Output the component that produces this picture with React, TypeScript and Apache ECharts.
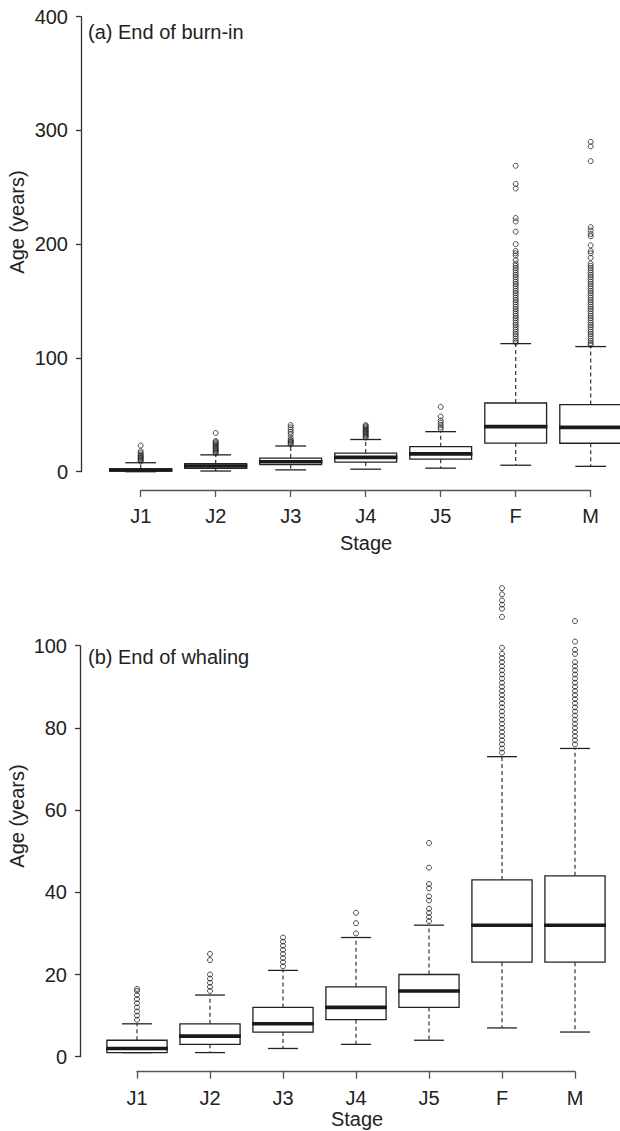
import React, { useEffect, useRef } from "react";
import * as echarts from "echarts";

const FONT = "'Liberation Sans', Arial, Helvetica, sans-serif";

// Stage categories
const stages = ["J1", "J2", "J3", "J4", "J5", "F", "M"];

// (a) End of burn-in: box statistics per stage
const burnInLow = [0, 0.6, 1.6, 2.2, 3.1, 5.7, 4.7];
const burnInQ1 = [0.6, 3, 6.3, 8.5, 11, 25.2, 25];
const burnInMedian = [1.5, 5, 8.8, 12.6, 15.7, 39.6, 39];
const burnInQ3 = [2.5, 7, 12, 16.4, 22, 60.4, 59];
const burnInHigh = [7.9, 14.8, 22.6, 28.3, 35.2, 112.6, 110];
const burnInOutliersJ1 = [23, 18, 16.5, 15, 14, 13, 12, 11, 10, 9];
const burnInOutliersJ2 = [34, 27, 26, 25, 24, 23, 22, 21, 20, 19, 18, 17, 16];
const burnInOutliersJ3 = [41, 39, 37, 35, 33, 30, 28, 27, 26, 25, 24];
const burnInOutliersJ4 = [41, 40, 39, 38, 37, 36, 35, 34, 33, 32, 31, 30];
const burnInOutliersJ5 = [57, 48.5, 45, 43, 41, 39, 37.5];
const burnInOutliersF = [
  269, 253, 249, 223, 220, 211, 200, 194, 192, 190, 186, 183, 181, 179, 177,
  175, 173, 171, 169, 167, 165, 163, 161, 159, 157, 155, 153, 151, 149, 147,
  145, 143, 141, 139, 137, 135, 133, 131, 129, 127, 125, 123, 121, 119, 117,
  115, 113.5,
];
const burnInOutliersM = [
  290, 286, 273, 215, 212, 209, 207, 199, 194, 192, 188, 183, 181, 179, 177,
  175, 173, 171, 169, 167, 165, 163, 161, 159, 157, 155, 153, 151, 149, 147,
  145, 143, 141, 139, 137, 135, 133, 131, 129, 127, 125, 123, 121, 119, 117,
  115, 113, 111.5,
];

// (b) End of whaling: box statistics per stage
const whalingLow = [1, 1, 2, 3, 4, 7, 6];
const whalingQ1 = [1, 3, 6, 9, 12, 23, 23];
const whalingMedian = [2, 5, 8, 12, 16, 32, 32];
const whalingQ3 = [4, 8, 12, 17, 20, 43, 44];
const whalingHigh = [8, 15, 21, 29, 32, 73, 75];
const whalingOutliersJ1 = [16.5, 16, 15, 14, 13, 12, 11, 10, 9];
const whalingOutliersJ2 = [25, 23.5, 20, 19, 18, 17, 16];
const whalingOutliersJ3 = [29, 28, 27, 26, 25, 24, 23, 22];
const whalingOutliersJ4 = [35, 32.5, 30];
const whalingOutliersJ5 = [52, 46, 42, 41, 39, 38, 36, 35, 34, 33];
const whalingOutliersF = [
  114, 112.5, 111, 110, 109, 107, 99.5, 98, 97, 96, 95, 94, 93, 92, 91, 90, 89,
  88, 87, 86, 85, 84, 83, 82, 81, 80, 79, 78, 77, 76, 75, 74,
];
const whalingOutliersM = [
  106, 101, 99, 98, 96, 95, 94, 93, 92, 91, 90, 89, 88, 87, 86, 85, 84, 83, 82,
  81, 80, 79, 78, 77, 76,
];

// Axis ticks
const burnInTicks = [0, 100, 200, 300, 400];
const whalingTicks = [0, 20, 40, 60, 80, 100];

const burnInOutliers = [
  burnInOutliersJ1, burnInOutliersJ2, burnInOutliersJ3, burnInOutliersJ4,
  burnInOutliersJ5, burnInOutliersF, burnInOutliersM,
];
const whalingOutliers = [
  whalingOutliersJ1, whalingOutliersJ2, whalingOutliersJ3, whalingOutliersJ4,
  whalingOutliersJ5, whalingOutliersF, whalingOutliersM,
];

function boxData(low: number[], q1: number[], med: number[], q3: number[], high: number[]) {
  return stages.map((_, i) => [i, low[i], q1[i], med[i], q3[i], high[i]]);
}
function outlierData(lists: number[][]) {
  const out: number[][] = [];
  lists.forEach((l, i) => l.forEach((v) => out.push([i, v])));
  return out;
}

const renderBox = (params: any, api: any) => {
  const i = api.value(0);
  const lo = api.coord([i, api.value(1)]);
  const q1 = api.coord([i, api.value(2)]);
  const md = api.coord([i, api.value(3)]);
  const q3 = api.coord([i, api.value(4)]);
  const hi = api.coord([i, api.value(5)]);
  const band = api.size([1, 0])[0];
  const half = band * 0.412;
  const cap = band * 0.205;
  const cx = md[0];
  const dashed = { stroke: "#333", lineWidth: 1.2, lineDash: [4, 3] };
  const solid = { stroke: "#222", lineWidth: 1.3 };
  return {
    type: "group",
    children: [
      { type: "line", shape: { x1: cx, y1: q3[1], x2: cx, y2: hi[1] }, style: dashed },
      { type: "line", shape: { x1: cx, y1: q1[1], x2: cx, y2: lo[1] }, style: dashed },
      { type: "line", shape: { x1: cx - cap, y1: hi[1], x2: cx + cap, y2: hi[1] }, style: solid },
      { type: "line", shape: { x1: cx - cap, y1: lo[1], x2: cx + cap, y2: lo[1] }, style: solid },
      {
        type: "rect",
        shape: { x: cx - half, y: q3[1], width: half * 2, height: q1[1] - q3[1] },
        style: { fill: "#fff", stroke: "#222", lineWidth: 1.3 },
      },
      {
        type: "line",
        shape: { x1: cx - half - 0.8, y1: md[1], x2: cx + half + 0.8, y2: md[1] },
        style: { stroke: "#1a1a1a", lineWidth: 3.6 },
      },
    ],
  };
};

const labelStyle = { fontFamily: FONT, fontSize: 20, color: "#222" };

function valueAxis(grid: number, ticks: number[], offset: number) {
  return {
    type: "value",
    gridIndex: grid,
    min: ticks[0],
    max: ticks[ticks.length - 1],
    interval: ticks[1] - ticks[0],
    offset,
    axisLine: { show: true, lineStyle: { color: "#333", width: 1.3 } },
    axisTick: { show: true, length: 5, lineStyle: { color: "#333", width: 1.3 } },
    axisLabel: { ...labelStyle, margin: 13 },
    splitLine: { show: false },
  };
}
function hiddenCat(grid: number) {
  return { type: "category", gridIndex: grid, data: stages, show: false, boundaryGap: true };
}
function shownCat(grid: number) {
  return {
    type: "category",
    gridIndex: grid,
    data: stages,
    boundaryGap: false,
    axisLine: { show: true, lineStyle: { color: "#555", width: 1.3 } },
    axisTick: { show: true, length: 7, lineStyle: { color: "#555", width: 1.3 } },
    axisLabel: { ...labelStyle, margin: 16, interval: 0 },
    splitLine: { show: false },
  };
}
function hiddenVal(grid: number) {
  return { type: "value", gridIndex: grid, show: false, min: 0, max: 1 };
}

const pointStyle = { color: "rgba(0,0,0,0)", borderColor: "#222", borderWidth: 1 };

function textEl(text: string, x: number, y: number, extra: any = {}, rotation = 0) {
  return {
    type: "text",
    x,
    y,
    rotation,
    silent: true,
    style: {
      text,
      font: `20px ${FONT}`,
      fill: "#222",
      textAlign: "left",
      textVerticalAlign: "middle",
      ...extra,
    },
  };
}

export default function App() {
  const ref = useRef<HTMLDivElement>(null);
  useEffect(() => {
    if (!ref.current) return;
    const chart = echarts.init(ref.current, null, { renderer: "svg" });
    const option: any = {
      animation: false,
      backgroundColor: "#ffffff",
      textStyle: { fontFamily: FONT },
      grid: [
        { left: 103.2, top: 16.7, width: 525, height: 455, containLabel: false, outerBoundsMode: "none" },
        { left: 140.7, top: 480, width: 450, height: 10, containLabel: false, outerBoundsMode: "none" },
        { left: 100.5, top: 645.7, width: 511, height: 411, containLabel: false, outerBoundsMode: "none" },
        { left: 137, top: 1061.7, width: 438, height: 10, containLabel: false, outerBoundsMode: "none" },
      ],
      xAxis: [hiddenCat(0), shownCat(1), hiddenCat(2), shownCat(3)],
      yAxis: [
        valueAxis(0, burnInTicks, 22.2),
        hiddenVal(1),
        valueAxis(2, whalingTicks, 20.5),
        hiddenVal(3),
      ],
      series: [
        {
          type: "custom",
          xAxisIndex: 0,
          yAxisIndex: 0,
          renderItem: renderBox,
          encode: { x: 0, y: [1, 2, 3, 4, 5] },
          data: boxData(burnInLow, burnInQ1, burnInMedian, burnInQ3, burnInHigh),
          silent: true,
        },
        {
          type: "scatter",
          xAxisIndex: 0,
          yAxisIndex: 0,
          symbol: "circle",
          symbolSize: 5,
          itemStyle: pointStyle,
          clip: false,
          silent: true,
          data: outlierData(burnInOutliers),
        },
        {
          type: "custom",
          xAxisIndex: 2,
          yAxisIndex: 2,
          renderItem: renderBox,
          encode: { x: 0, y: [1, 2, 3, 4, 5] },
          data: boxData(whalingLow, whalingQ1, whalingMedian, whalingQ3, whalingHigh),
          silent: true,
        },
        {
          type: "scatter",
          xAxisIndex: 2,
          yAxisIndex: 2,
          symbol: "circle",
          symbolSize: 5,
          itemStyle: pointStyle,
          clip: false,
          silent: true,
          data: outlierData(whalingOutliers),
        },
      ],
      graphic: [
        textEl("(a) End of burn-in", 88, 32),
        textEl("(b) End of whaling", 88, 657),
        textEl("Stage", 366, 543, { textAlign: "center" }),
        textEl("Stage", 357, 1119, { textAlign: "center" }),
        textEl("Age (years)", 17, 222, { textAlign: "center" }, Math.PI / 2),
        textEl("Age (years)", 17, 816, { textAlign: "center" }, Math.PI / 2),
      ],
    };
    chart.setOption(option);
    return () => chart.dispose();
  }, []);
  return (
    <div
      ref={ref}
      style={{ position: "absolute", left: 0, top: 0, width: 620, height: 1131, background: "#fff" }}
    />
  );
}
